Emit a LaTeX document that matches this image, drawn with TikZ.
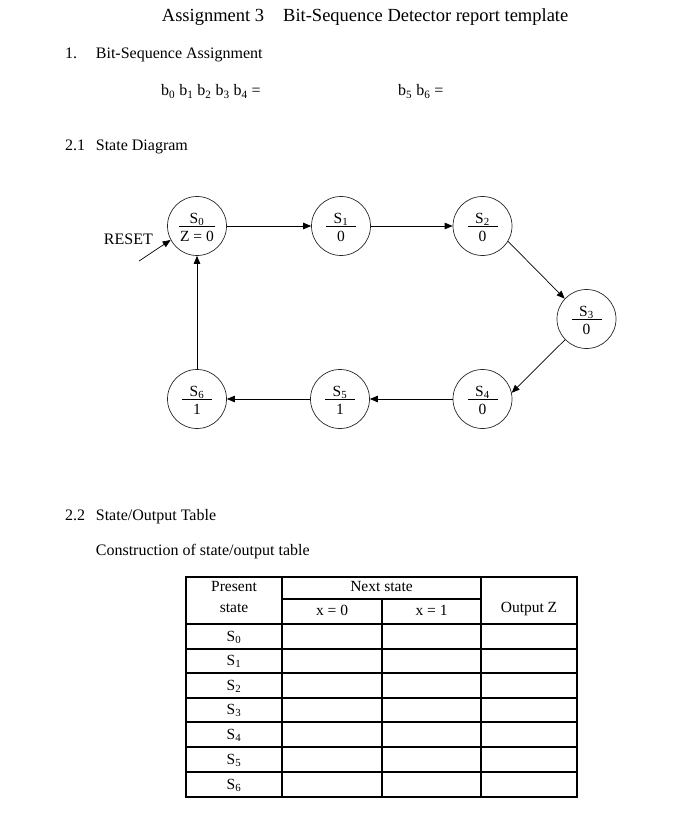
\documentclass[tikz,border=0pt]{standalone}
\usepackage{fontspec}
\setmainfont{Liberation Serif}
\usetikzlibrary{arrows.meta,calc}
\newcommand{\mkstate}[6]{%
  \node[st] (#1) at (#2,#3) {};
  \node[ctxt] (#1t) at ($(#1.center)+(0,-3)$) {#4};
  \draw[fracline] ($(#1.center)+(-#6,0)$) -- ($(#1.center)+(#6,0)$);
  \node[ctxt] (#1b) at ($(#1.center)+(0,15)$) {#5};
}
\begin{document}
\begin{tikzpicture}[x=1pt,y=-1pt,
  txt/.style={inner sep=0pt,anchor=base west,font=\fontsize{16}{19}\selectfont},
  ctxt/.style={inner sep=0pt,anchor=base,font=\fontsize{15.5}{18}\selectfont},
  ttl/.style={inner sep=0pt,anchor=base west,font=\fontsize{18.5}{22}\selectfont},
  st/.style={circle,draw=black!85,line width=0.7pt,minimum size=59pt,inner sep=0pt},
  fracline/.style={line width=0.7pt},
  arr/.style={-{Triangle[length=8pt,width=6.5pt]},line width=0.7pt},
  tbl/.style={line width=1.1pt}]
\useasboundingbox (0,0) rectangle (672,818);

% headings
\node[ttl] (title1) at (161.7,21.7) {Assignment 3};
\node[ttl] (title2) at (283,21.7) {Bit-Sequence Detector report template};
\node[txt] (h1n) at (65,59) {1.};
\node[txt] (h1) at (95.7,59) {Bit-Sequence Assignment};
\node[txt] (bits1) at (161,96) {b\textsubscript{0} b\textsubscript{1} b\textsubscript{2} b\textsubscript{3} b\textsubscript{4} =};
\node[txt] (bits2) at (398,96) {b\textsubscript{5} b\textsubscript{6} =};
\node[txt] (h21n) at (65,151) {2.1};
\node[txt] (h21) at (95.7,151) {State Diagram};
\node[txt] (h22n) at (65,520) {2.2};
\node[txt] (h22) at (95.7,520) {State/Output Table};
\node[txt] (constr) at (95.7,555) {Construction of state/output table};

% states
\mkstate{s0}{197}{226}{S\textsubscript{0}}{Z = 0}{18}
\mkstate{s1}{341}{226}{S\textsubscript{1}}{0}{15}
\mkstate{s2}{482.5}{226}{S\textsubscript{2}}{0}{15}
\mkstate{s3}{586.5}{319}{S\textsubscript{3}}{0}{15}
\mkstate{s4}{482.5}{399}{S\textsubscript{4}}{0}{15}
\mkstate{s5}{340}{399}{S\textsubscript{5}}{1}{15}
\mkstate{s6}{197}{399}{S\textsubscript{6}}{1}{15}

\node[txt,anchor=base east] (reset) at (153,244) {RESET};
\coordinate (rst) at (139,261);
\draw[arr] (rst) -- (s0.208);

\draw[arr] (s0) -- (s1);
\draw[arr] (s1) -- (s2);
\draw[arr] (s2.329) -- (s3.137);
\draw[arr] (s3.224) -- (s4.12);
\draw[arr] (s4) -- (s5);
\draw[arr] (s5) -- (s6);
\draw[arr] (s6) -- (s0);

% table
\draw[tbl] (186,577) rectangle (577,797);
\draw[tbl] (282,577) -- (282,797);
\draw[tbl] (481,577) -- (481,797);
\draw[tbl] (382,599) -- (382,797);
\draw[tbl] (282,599) -- (481,599);
\foreach \yy in {624,649,673,698,722,747,772} \draw[tbl] (186,\yy) -- (577,\yy);

\node[ctxt] (tp1) at (234,591) {Present};
\node[ctxt] (tp2) at (234,612) {state};
\node[ctxt] (tns) at (381.5,591) {Next state};
\node[ctxt] (tx0) at (332,615) {x = 0};
\node[ctxt] (tx1) at (431.5,615) {x = 1};
\node[ctxt] (toz) at (529,612) {Output Z};
\node[ctxt] (r0) at (234,641) {S\textsubscript{0}};
\node[ctxt] (r1) at (234,665.5) {S\textsubscript{1}};
\node[ctxt] (r2) at (234,690) {S\textsubscript{2}};
\node[ctxt] (r3) at (234,714.5) {S\textsubscript{3}};
\node[ctxt] (r4) at (234,739) {S\textsubscript{4}};
\node[ctxt] (r5) at (234,764) {S\textsubscript{5}};
\node[ctxt] (r6) at (234,789) {S\textsubscript{6}};
\end{tikzpicture}
\end{document}
